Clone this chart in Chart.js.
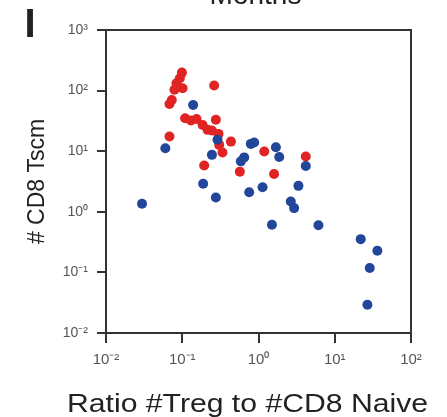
<!DOCTYPE html>
<html>
<head>
<meta charset="utf-8">
<script src="https://cdn.jsdelivr.net/npm/chart.js@4.4.0/dist/chart.umd.min.js"></script>
<style>
  html, body { margin: 0; padding: 0; background: #fff; }
  #wrap { width: 447px; height: 417px; }
</style>
</head>
<body>
<div id="wrap"><canvas id="scatterChart" width="447" height="417"></canvas></div>
<script>
// ratio Treg / CD8 naive  vs  # CD8 Tscm
const redX = [0.099, 0.093, 0.084, 0.101, 0.079, 0.073, 0.068, 0.262, 0.109, 0.130, 0.154, 0.185,
              0.215, 0.276, 0.245, 0.299, 0.068, 0.435, 0.337, 0.194, 1.19, 0.569, 1.60, 4.17, 0.305];
const redY = [198, 160, 132, 109, 103, 70, 60, 121, 35, 32, 34, 27,
              22.5, 33, 22, 19.3, 17.5, 14.4, 9.5, 5.8, 9.9, 4.6, 4.2, 8.2, 12.7];

const blueX = [0.139, 0.060, 0.0297, 0.290, 0.245, 0.188, 0.276, 0.587, 0.649, 0.794, 0.877, 0.755, 1.13,
               1.69, 1.87, 1.50, 3.34, 2.65, 2.93, 4.17, 6.11, 21.9, 36.2, 28.8, 26.8];
const blueY = [58, 11.2, 1.36, 15.4, 8.7, 2.9, 1.72, 6.8, 7.9, 13.2, 13.9, 2.1, 2.55,
               11.6, 8.0, 0.61, 2.68, 1.48, 1.15, 5.7, 0.60, 0.354, 0.228, 0.118, 0.0293];

const xTicks = [0.01, 0.1, 1, 10, 100];
const yTicks = [0.01, 0.1, 1, 10, 100, 1000];
const xTitle = 'Ratio #Treg to #CD8 Naive';
const yTitle = '# CD8 Tscm';
const supers = {'-': '\u207B', '0': '\u2070', '1': '\u00B9', '2': '\u00B2', '3': '\u00B3'};
const FONT = '"Liberation Sans", Arial, sans-serif';

function pow10Label(v) {
    const e = String(Math.round(Math.log10(v)));
    return '10' + e.split('').map(c => supers[c]).join('');
}

function toPoints(xs, ys) {
    return xs.map((x, i) => ({ x: x, y: ys[i] }));
}

// frame, panel letter, cut-off header and the (slightly wide) x title
const extras = {
    id: 'extras',
    afterDraw(chart) {
        const { ctx, chartArea } = chart;
        ctx.save();
        ctx.strokeStyle = '#333';
        ctx.lineWidth = 2;
        ctx.beginPath();
        ctx.moveTo(chartArea.left, chartArea.top);
        ctx.lineTo(chartArea.right, chartArea.top);
        ctx.lineTo(chartArea.right, chartArea.bottom);
        ctx.stroke();

        ctx.fillStyle = '#222';
        ctx.textAlign = 'center';
        ctx.textBaseline = 'alphabetic';
        ctx.font = '28px ' + FONT;
        ctx.fillText('Months', (chartArea.left + chartArea.right) / 2 - 3, 4);

        ctx.font = 'bold 40px ' + FONT;
        ctx.fillText('I', 30, 37);

        // x title: stretched a little to the width used in the figure
        ctx.font = '26px ' + FONT;
        ctx.textAlign = 'left';
        const w = ctx.measureText(xTitle).width;
        ctx.translate(67, 412);
        ctx.scale(361 / w, 1);
        ctx.fillText(xTitle, 0, 0);
        ctx.restore();
    }
};

const ctx = document.getElementById('scatterChart').getContext('2d');
const myChart = new Chart(ctx, {
    type: 'scatter',
    data: {
        datasets: [
            {
                label: 'blue',
                data: toPoints(blueX, blueY),
                backgroundColor: '#22469a',
                borderWidth: 0,
                pointRadius: 5
            },
            {
                label: 'red',
                data: toPoints(redX, redY),
                backgroundColor: '#e02424',
                borderWidth: 0,
                pointRadius: 5
            }
        ]
    },
    options: {
        responsive: false,
        animation: false,
        layout: { padding: { top: 30, right: 36, left: 0, bottom: 0 } },
        plugins: {
            legend: { display: false },
            tooltip: { enabled: false }
        },
        scales: {
            x: {
                type: 'logarithmic',
                min: 0.01,
                max: 100,
                afterBuildTicks: s => { s.ticks = xTicks.map(v => ({ value: v })); },
                afterFit: s => { s.height = 84; },
                ticks: {
                    callback: v => pow10Label(v),
                    color: '#555',
                    font: { size: 15, family: FONT },
                    padding: 8,
                    maxRotation: 0
                },
                grid: { drawOnChartArea: false, color: '#333', lineWidth: 2, tickLength: 10 },
                border: { color: '#333', width: 2 }
            },
            y: {
                type: 'logarithmic',
                min: 0.01,
                max: 1000,
                afterBuildTicks: s => { s.ticks = yTicks.map(v => ({ value: v })); },
                afterFit: s => { s.width = 106; },
                ticks: {
                    callback: v => pow10Label(v),
                    color: '#555',
                    font: { size: 14, family: FONT },
                    padding: 9
                },
                grid: { drawOnChartArea: false, color: '#333', lineWidth: 2, tickLength: 9 },
                border: { color: '#333', width: 2 },
                title: {
                    display: true,
                    text: yTitle,
                    color: '#222',
                    font: { size: 23, family: FONT, lineHeight: 1.2 },
                    padding: { top: 24, bottom: 0 }
                }
            }
        }
    },
    plugins: [extras]
});
</script>
</body>
</html>
